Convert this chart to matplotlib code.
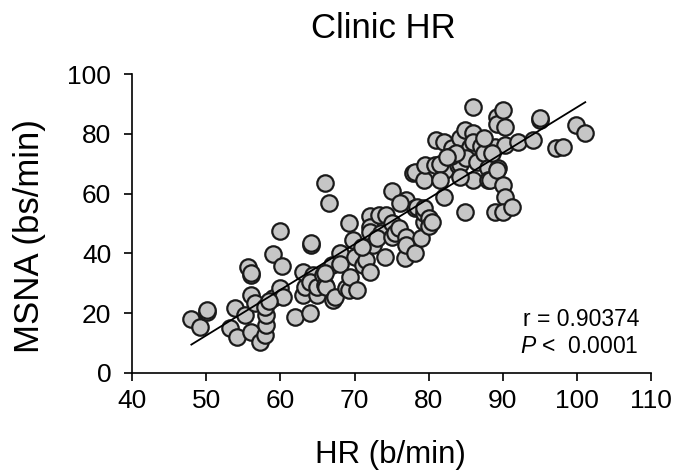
import matplotlib
matplotlib.use("Agg")
import matplotlib.pyplot as plt
import numpy as np

# ===== DONNEES ===== #

hr = [48.0, 49.2, 50.1, 50.1, 53.2, 53.9, 54.1, 55.2, 55.7, 56.1, 56.1, 56.1, 56.1,
      56.6, 57.2, 57.9, 58.1, 58.1, 57.9, 59.0, 59.0, 59.9, 59.9, 60.2, 60.4, 58.5,
      62.0, 63.1, 63.3, 63.1, 64.0, 64.1, 64.1, 64.4, 64.0, 64.9, 64.9, 65.8, 66.0,
      66.0, 66.5, 66.2, 67.1, 66.9, 66.0, 67.4,
      68.0, 68.0, 68.9, 69.2, 69.2, 69.4, 69.8, 70.1, 70.3, 71.2, 71.6, 72.1, 72.1,
      72.1, 72.1, 72.5, 73.3, 73.6, 73.0, 71.0,
      74.1, 74.3, 75.0, 75.0, 75.0, 75.4, 76.0, 76.8, 77.0, 77.0, 77.0, 78.1, 78.1,
      78.4, 79.0, 79.3, 79.3, 79.3, 77.9, 78.1, 79.3, 79.5, 80.0, 80.0, 80.5, 76.1,
      80.8, 81.0, 82.0, 82.0, 82.0, 82.2, 83.1, 84.0, 84.2, 84.2, 84.9, 84.9, 85.5,
      86.0, 86.0, 86.0, 86.0, 85.0, 83.0, 81.5, 86.5, 87.0, 83.7, 87.4, 82.4, 84.2,
      81.5,
      88.0, 88.0, 88.2, 88.9, 88.9, 89.2, 89.2, 89.3, 89.2, 90.0, 90.3, 90.0, 90.3,
      90.0, 91.2, 90.3, 92.1, 94.1, 95.0, 95.0, 97.2, 98.1, 99.9, 101.1, 87.5, 88.5]

msna = [17.9, 15.4, 20.4, 21.0, 14.9, 21.6, 12.1, 19.3, 35.5, 32.7, 33.5, 26.0, 13.7,
        23.2, 10.4, 12.6, 16.0, 19.3, 22.1, 39.7, 24.9, 28.3, 47.6, 35.7, 25.5, 24.0,
        18.8, 26.0, 28.8, 33.8, 19.9, 42.8, 43.5, 32.7, 30.5, 26.0, 28.8, 32.7, 29.4,
        63.6, 56.9, 28.8, 24.4, 36.1, 33.3, 25.5,
        40.0, 36.4, 28.3, 27.7, 50.0, 32.2, 44.5, 38.9, 27.7, 36.1, 37.8, 33.6, 52.5,
        48.9, 47.2, 42.8, 52.8, 46.7, 45.0, 42.0,
        38.9, 52.8, 50.0, 61.0, 45.6, 46.7, 48.5, 38.3, 45.6, 42.7, 57.9, 40.0, 55.1,
        55.6, 45.0, 50.6, 53.4, 55.1, 66.8, 67.3, 64.6, 69.6, 52.0, 49.0, 50.5, 56.8,
        69.6, 78.0, 77.4, 67.9, 59.0, 67.9, 75.2, 69.6, 70.1, 78.5, 81.3, 53.9, 75.5,
        89.1, 80.2, 77.4, 64.6, 72.0, 72.5, 70.0, 70.5, 76.0, 73.5, 73.5, 72.4, 65.7,
        64.6,
        68.5, 64.6, 64.6, 75.7, 53.9, 85.8, 83.5, 68.5, 68.0, 88.0, 82.4, 62.9, 59.0,
        53.9, 55.6, 76.3, 77.4, 78.0, 84.7, 85.5, 75.2, 75.7, 83.0, 80.2, 78.5, 73.5]

titre = "Clinic HR"
label_x = "HR (b/min)"
label_y = "MSNA (bs/min)"
texte_r = "r = 0.90374"
texte_p = "$\\it{P}$ <  0.0001"

x_ticks = [40, 50, 60, 70, 80, 90, 100, 110]
y_ticks = [0, 20, 40, 60, 80, 100]

# ===== FIGURE ===== #

plt.rcParams['font.family'] = ['Liberation Sans', 'DejaVu Sans']
plt.rcParams['mathtext.fontset'] = 'custom'
plt.rcParams['mathtext.it'] = 'Liberation Sans:italic'

fig = plt.figure(figsize=(6.77, 4.72), dpi=100)
ax = fig.add_axes([0.195, 0.2104, 0.767, 0.6322])

x = np.array(hr)
y = np.array(msna)

# droite de regression
pente, origine = np.polyfit(x, y, 1)
xl = np.array([x.min(), x.max()])
ax.plot(xl, pente * xl + origine, color='black', lw=1.3, zorder=3)

ax.scatter(x, y, s=140, facecolor='#c6c6c6', edgecolor='#1a1a1a',
           linewidth=1.6, zorder=2)

ax.set_xlim(40, 110)
ax.set_ylim(0, 100)
ax.set_xticks(x_ticks)
ax.set_yticks(y_ticks)
ax.tick_params(direction='out', length=6, width=1.2, labelsize=19)
ax.tick_params(axis='y', pad=9)
ax.tick_params(axis='x', pad=6)

for s in ['top', 'right']:
    ax.spines[s].set_visible(False)
for s in ['left', 'bottom']:
    ax.spines[s].set_linewidth(1.2)

# textes
fig.text(383 / 677, 1 - 29 / 472, titre, ha='center', va='center', fontsize=25)
fig.text(390 / 677, 1 - 455 / 472, label_x, ha='center', va='center', fontsize=22.5)
fig.text(30 / 677, 1 - 236 / 472, label_y, ha='center', va='center',
         rotation=90, fontsize=25)

ax.text(0.977, 0.177, texte_r, transform=ax.transAxes, ha='right', va='center', fontsize=16.5)
ax.text(0.975, 0.087, texte_p, transform=ax.transAxes, ha='right', va='center', fontsize=16.5)

fig.savefig("out.png", dpi=100)
